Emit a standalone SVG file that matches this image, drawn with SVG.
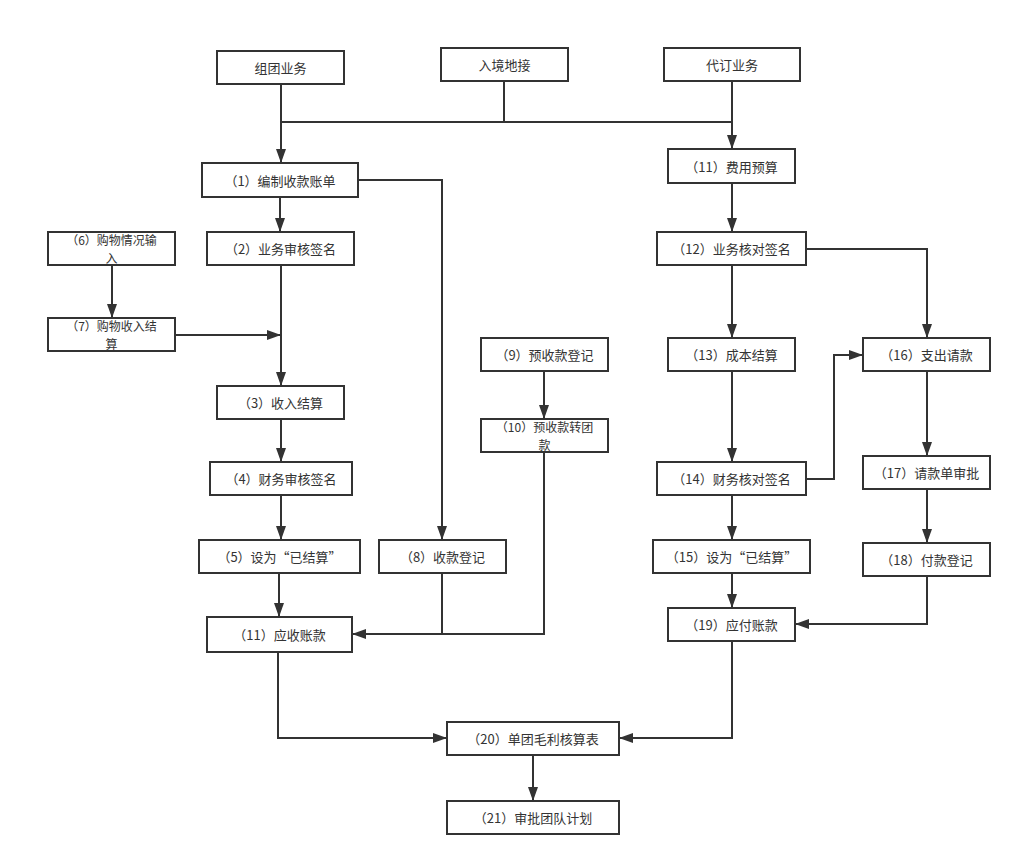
<svg xmlns="http://www.w3.org/2000/svg" width="1022" height="865" viewBox="0 0 1022 865">
<style>
.b{fill:#fff;stroke:#333;stroke-width:2}
.t{font-family:"Noto Sans CJK SC","Liberation Sans",sans-serif;font-size:13px;fill:#333;text-anchor:middle;dominant-baseline:central}
.s{font-size:12px}
.c path{fill:none;stroke:#333;stroke-width:2}
.a{marker-end:url(#ah)}
</style>
<defs>
<marker id="ah" markerUnits="userSpaceOnUse" markerWidth="14" markerHeight="10" refX="14" refY="5" orient="auto">
<path d="M0,0 L14,5 L0,10 z" fill="#333"/>
</marker>
</defs>
<rect width="1022" height="865" fill="#fff"/>
<g class="c" id="connectors">
<path class="a" d="M281,84 V163"/>
<path d="M504,81 V122"/>
<path d="M281,122 H732"/>
<path class="a" d="M732,81 V149"/>
<path class="a" d="M280,197 V232"/>
<path class="a" d="M358,180 H442 V540"/>
<path class="a" d="M281,265 V386"/>
<path class="a" d="M112,265 V318"/>
<path class="a" d="M175,335 H281"/>
<path class="a" d="M281,419 V462"/>
<path class="a" d="M281,495 V540"/>
<path class="a" d="M279,573 V617"/>
<path d="M442,573 V634"/>
<path class="a" d="M544,452 V634 H352"/>
<path class="a" d="M544,371 V419"/>
<path class="a" d="M732,183 V232"/>
<path class="a" d="M732,265 V338"/>
<path class="a" d="M806,249 H927 V338"/>
<path class="a" d="M732,371 V462"/>
<path class="a" d="M806,479 H834 V355 H863"/>
<path class="a" d="M732,495 V540"/>
<path class="a" d="M732,573 V608"/>
<path class="a" d="M927,371 V456"/>
<path class="a" d="M927,489 V543"/>
<path class="a" d="M927,576 V624 H795"/>
<path class="a" d="M278,653 V738 H447"/>
<path class="a" d="M732,641 V738 H619"/>
<path class="a" d="M533,755 V801"/>
</g>
<g id="n-zutuan"><rect class="b" x="217" y="51" width="127" height="33"/><text class="t" x="280.5" y="67.5">组团业务</text></g>
<g id="n-rujing"><rect class="b" x="441" y="48" width="127" height="33"/><text class="t" x="504.5" y="64.5">入境地接</text></g>
<g id="n-daiding"><rect class="b" x="664" y="48" width="136" height="33"/><text class="t" x="732" y="64.5">代订业务</text></g>
<g id="n1"><rect class="b" x="202" y="163" width="156" height="34"/><text class="t" x="280" y="180">（1）编制收款账单</text></g>
<g id="n2"><rect class="b" x="207" y="232" width="147" height="33"/><text class="t" x="280.5" y="248.5">（2）业务审核签名</text></g>
<g id="n6"><rect class="b" x="48" y="232" width="127" height="33"/><text class="t s" x="111.5" y="239.75">（6）购物情况输</text><text class="t s" x="111.5" y="257.25">入</text></g>
<g id="n7"><rect class="b" x="48" y="318" width="127" height="33"/><text class="t s" x="111.5" y="325.75">（7）购物收入结</text><text class="t s" x="111.5" y="343.25">算</text></g>
<g id="n3"><rect class="b" x="217" y="386" width="127" height="33"/><text class="t" x="280.5" y="402.5">（3）收入结算</text></g>
<g id="n4"><rect class="b" x="210" y="462" width="142" height="33"/><text class="t" x="281" y="478.5">（4）财务审核签名</text></g>
<g id="n5"><rect class="b" x="199" y="540" width="161" height="33"/><text class="t" x="279.5" y="556.5">（5）设为“已结算”</text></g>
<g id="n8"><rect class="b" x="379" y="540" width="127" height="33"/><text class="t" x="442.5" y="556.5">（8）收款登记</text></g>
<g id="n9"><rect class="b" x="481" y="338" width="127" height="33"/><text class="t" x="544.5" y="354.5">（9）预收款登记</text></g>
<g id="n10"><rect class="b" x="481" y="419" width="127" height="33"/><text class="t s" x="544.5" y="426.75">（10）预收款转团</text><text class="t s" x="544.5" y="444.25">款</text></g>
<g id="n11a"><rect class="b" x="207" y="617" width="145" height="35"/><text class="t" x="279.5" y="634.5">（11）应收账款</text></g>
<g id="n11b"><rect class="b" x="668" y="149" width="127" height="34"/><text class="t" x="731.5" y="166">（11）费用预算</text></g>
<g id="n12"><rect class="b" x="657" y="232" width="149" height="33"/><text class="t" x="731.5" y="248.5">（12）业务核对签名</text></g>
<g id="n13"><rect class="b" x="668" y="338" width="127" height="33"/><text class="t" x="731.5" y="354.5">（13）成本结算</text></g>
<g id="n16"><rect class="b" x="863" y="338" width="127" height="33"/><text class="t" x="926.5" y="354.5">（16）支出请款</text></g>
<g id="n14"><rect class="b" x="657" y="462" width="149" height="33"/><text class="t" x="731.5" y="478.5">（14）财务核对签名</text></g>
<g id="n17"><rect class="b" x="863" y="456" width="127" height="33"/><text class="t" x="926.5" y="472.5">（17）请款单审批</text></g>
<g id="n15"><rect class="b" x="653" y="540" width="157" height="33"/><text class="t" x="731.5" y="556.5">（15）设为“已结算”</text></g>
<g id="n18"><rect class="b" x="863" y="543" width="127" height="33"/><text class="t" x="926.5" y="559.5">（18）付款登记</text></g>
<g id="n19"><rect class="b" x="668" y="608" width="127" height="33"/><text class="t" x="731.5" y="624.5">（19）应付账款</text></g>
<g id="n20"><rect class="b" x="447" y="722" width="172" height="33"/><text class="t" x="533" y="738.5">（20）单团毛利核算表</text></g>
<g id="n21"><rect class="b" x="447" y="801" width="172" height="33"/><text class="t" x="533" y="817.5">（21）审批团队计划</text></g>
</svg>
